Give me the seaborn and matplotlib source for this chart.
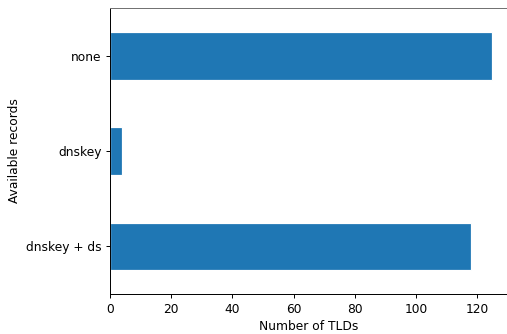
import matplotlib
matplotlib.use("Agg")
import matplotlib.pyplot as plt
import seaborn as sns
import pandas as pd

categories = ["none", "dnskey", "dnskey + ds"]
tld_counts = [125, 4, 118]

df = pd.DataFrame({"records": categories, "tlds": tld_counts})

sns.set_style("ticks")
plt.rcParams["font.family"] = ["DejaVu Sans"]
plt.rcParams["font.size"] = 10
plt.rcParams["text.color"] = "black"
plt.rcParams["axes.labelcolor"] = "black"
plt.rcParams["xtick.color"] = "black"
plt.rcParams["ytick.color"] = "black"
plt.rcParams["axes.edgecolor"] = "black"

DPI = 88
W, H = 507, 334
fig = plt.figure(figsize=(W / DPI, H / DPI), dpi=DPI)
ax = fig.add_axes([110 / W, 40 / H, 1 - 110 / W, 286 / H])

sns.barplot(data=df, x="tlds", y="records", order=categories, orient="h",
            color="#1f77b4", saturation=1, width=0.5, ax=ax)

ax.set_xlim(0, 129.8)
ax.set_ylim(2.5, -0.5)
ax.set_xticks([0, 20, 40, 60, 80, 100, 120])
ax.set_xlabel("Number of TLDs", fontsize=10)
ax.set_ylabel("Available records", fontsize=10)
ax.tick_params(labelsize=10, length=3.5, width=0.8)
for side in ["left", "bottom", "top"]:
    ax.spines[side].set_linewidth(0.8)
ax.spines["right"].set_visible(False)
ax.spines["top"].set_color("#707070")

fig.savefig("out.png", dpi=DPI)
